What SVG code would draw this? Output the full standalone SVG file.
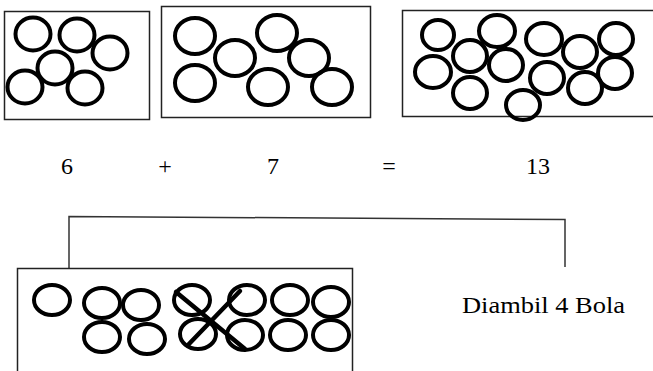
<svg xmlns="http://www.w3.org/2000/svg" width="653" height="371" viewBox="0 0 653 371">
<style>
.box{fill:#fff;stroke:#222;stroke-width:1.5}
.ball{fill:none;stroke:#000;stroke-width:4}
.txt{font-family:"Liberation Serif","Times New Roman",serif;font-size:24px;fill:#000}
.con{fill:none;stroke:#333;stroke-width:1.5}
.cross{stroke:#000;stroke-width:4.5;stroke-linecap:round}
</style>
<rect width="653" height="371" fill="#fff"/>
<g id="box6">
<rect class="box" x="4.5" y="11.5" width="145" height="108"/>
<ellipse class="ball" cx="33" cy="34" rx="17.5" ry="16.5"/>
<ellipse class="ball" cx="77" cy="35" rx="17.5" ry="16.5"/>
<ellipse class="ball" cx="110" cy="53" rx="17.5" ry="16.5"/>
<ellipse class="ball" cx="55" cy="68" rx="17.5" ry="16.5"/>
<ellipse class="ball" cx="25" cy="87" rx="17.5" ry="16.5"/>
<ellipse class="ball" cx="85" cy="88" rx="17.5" ry="16.5"/>
</g>
<g id="box7">
<rect class="box" x="161.5" y="6.5" width="209" height="111"/>
<ellipse class="ball" cx="195" cy="36" rx="20" ry="18"/>
<ellipse class="ball" cx="235" cy="58" rx="20" ry="18"/>
<ellipse class="ball" cx="277" cy="33" rx="20" ry="18"/>
<ellipse class="ball" cx="309" cy="58" rx="20" ry="18"/>
<ellipse class="ball" cx="195" cy="83" rx="20" ry="18"/>
<ellipse class="ball" cx="268" cy="87" rx="20" ry="18"/>
<ellipse class="ball" cx="332" cy="87" rx="20" ry="18"/>
</g>
<g id="box13">
<rect class="box" x="402.5" y="10.5" width="260" height="106"/>
<ellipse class="ball" cx="438" cy="35" rx="16" ry="15"/>
<ellipse class="ball" cx="497" cy="31" rx="18" ry="16"/>
<ellipse class="ball" cx="544" cy="39" rx="18" ry="16"/>
<ellipse class="ball" cx="580" cy="52" rx="17" ry="16"/>
<ellipse class="ball" cx="616" cy="39" rx="17" ry="16"/>
<ellipse class="ball" cx="470" cy="56" rx="17" ry="16"/>
<ellipse class="ball" cx="506" cy="65" rx="17" ry="16"/>
<ellipse class="ball" cx="433" cy="72" rx="18" ry="16"/>
<ellipse class="ball" cx="547" cy="78" rx="17" ry="16"/>
<ellipse class="ball" cx="615" cy="73" rx="17" ry="16"/>
<ellipse class="ball" cx="470" cy="93" rx="17" ry="16"/>
<ellipse class="ball" cx="585" cy="88" rx="17" ry="16"/>
<ellipse class="ball" cx="523" cy="105" rx="17" ry="15"/>
</g>
<g id="equation">
<text class="txt" x="67" y="174" text-anchor="middle">6</text>
<text class="txt" x="165" y="174" text-anchor="middle">+</text>
<text class="txt" x="273" y="174" text-anchor="middle">7</text>
<text class="txt" x="389" y="174" text-anchor="middle">=</text>
<text class="txt" x="538" y="174" text-anchor="middle">13</text>
</g>
<g id="connectors">
<polyline class="con" points="69,268 69,216.5 565,219.5 565,267"/>
</g>
<g id="boxTaken">
<rect class="box" x="17.5" y="268.5" width="335" height="120"/>
<ellipse class="ball" cx="52" cy="300" rx="18" ry="15"/>
<ellipse class="ball" cx="102" cy="303" rx="18" ry="15"/>
<ellipse class="ball" cx="141" cy="305" rx="18" ry="15"/>
<ellipse class="ball" cx="192" cy="300" rx="18" ry="15"/>
<ellipse class="ball" cx="247" cy="300" rx="18" ry="15"/>
<ellipse class="ball" cx="290" cy="300" rx="18" ry="15"/>
<ellipse class="ball" cx="331" cy="302" rx="18" ry="15"/>
<ellipse class="ball" cx="102" cy="337" rx="18" ry="15"/>
<ellipse class="ball" cx="147" cy="339" rx="18" ry="15"/>
<ellipse class="ball" cx="198" cy="334" rx="18" ry="15"/>
<ellipse class="ball" cx="245" cy="335" rx="18" ry="15"/>
<ellipse class="ball" cx="288" cy="335" rx="18" ry="15"/>
<ellipse class="ball" cx="331" cy="335" rx="18" ry="15"/>
<line class="cross" x1="176" y1="292" x2="245" y2="349"/>
<line class="cross" x1="240" y1="291" x2="188" y2="345"/>
</g>
<g id="label">
<text class="txt" x="462" y="313" textLength="163" lengthAdjust="spacingAndGlyphs">Diambil 4 Bola</text>
</g>
</svg>
